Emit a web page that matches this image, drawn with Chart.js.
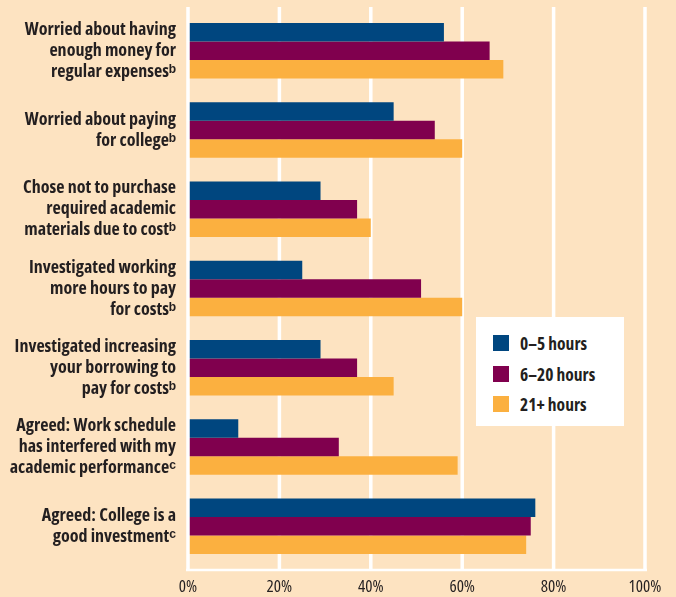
<!DOCTYPE html>
<html>
<head>
<meta charset="utf-8">
<script src="https://cdn.jsdelivr.net/npm/chart.js@4.4.1/dist/chart.umd.min.js"></script>
<style>
  body { margin: 0; background: #fde3c1; }
  #wrap { position: relative; width: 676px; height: 597px; background: #fde3c1; }
  #legend {
    position: absolute; left: 476px; top: 317px; width: 148px; height: 109px;
    background: #ffffff; box-sizing: border-box; padding: 18px 0 0 17px;
    font-family: 'Open Sans', sans-serif; font-stretch: 75%;
    font-weight: bold; font-size: 17.5px; color: #231f20;
  }
  #legend .item { display: flex; align-items: center; height: 16px; margin-bottom: 14.5px; }
  #legend .box { width: 16px; height: 16px; margin-right: 11px; flex: none; }
</style>
</head>
<body>
<div id="wrap">
  <canvas id="workChart" width="676" height="597"></canvas>
  <div id="legend"></div>
</div>
<script>
/**
 *  Survey items and share of students agreeing, by weekly hours worked.
 */
var categories = [
    ['Worried about having', 'enough money for', 'regular expensesᵇ'],
    ['Worried about paying', 'for collegeᵇ'],
    ['Chose not to purchase', 'required academic', 'materials due to costᵇ'],
    ['Investigated working', 'more hours to pay', 'for costsᵇ'],
    ['Investigated increasing', 'your borrowing to', 'pay for costsᵇ'],
    ['Agreed: Work schedule', 'has interfered with my', 'academic performanceᶜ'],
    ['Agreed: College is a', 'good investmentᶜ']
];
var seriesNames = ['0–5 hours', '6–20 hours', '21+ hours'];
var hours0to5 = [56, 45, 29, 25, 29, 11, 76];
var hours6to20 = [66, 54, 37, 51, 37, 33, 75];
var hours21plus = [69, 60, 40, 60, 45, 59, 74];
var xTicks = [0, 20, 40, 60, 80, 100];

var colors = ['#00467f', '#80004e', '#fbb040'];
var fontFamily = "'Open Sans', sans-serif";
var textColor = '#231f20';

/**
 * White grid frame: inner lines under the bars, zero line and base on top.
 */
var frameLines = {
    id: 'frameLines',
    beforeDatasetsDraw: function(chart) {
        var ctx = chart.ctx;
        var area = chart.chartArea;
        var x = chart.scales.x;
        ctx.save();
        ctx.strokeStyle = '#ffffff';
        ctx.lineWidth = 3.5;
        xTicks.forEach(function(v) {
            if (v === 0) return;
            var px = x.getPixelForValue(v);
            ctx.beginPath();
            ctx.moveTo(px, area.top - 4);
            ctx.lineTo(px, area.bottom + 4);
            ctx.stroke();
        });
        ctx.restore();
    },
    afterDatasetsDraw: function(chart) {
        var ctx = chart.ctx;
        var area = chart.chartArea;
        var x = chart.scales.x;
        var x0 = x.getPixelForValue(0);
        ctx.save();
        ctx.strokeStyle = '#ffffff';
        ctx.lineWidth = 3.5;
        ctx.beginPath();
        ctx.moveTo(x0, area.top - 4);
        ctx.lineTo(x0, area.bottom + 4);
        ctx.stroke();
        ctx.lineWidth = 2.5;
        ctx.beginPath();
        ctx.moveTo(x0 - 2, area.bottom + 4);
        ctx.lineTo(x.getPixelForValue(100) + 2, area.bottom + 4);
        ctx.stroke();
        ctx.restore();
    }
};

var seriesData = [hours0to5, hours6to20, hours21plus];
var workChart = new Chart(document.getElementById('workChart').getContext('2d'), {
    type: 'bar',
    data: {
        labels: categories,
        datasets: seriesNames.map(function(name, i) {
            return {
                label: name,
                data: seriesData[i],
                backgroundColor: colors[i],
                borderWidth: 0,
                categoryPercentage: 0.7,
                barPercentage: 1.0
            };
        })
    },
    options: {
        indexAxis: 'y',
        responsive: false,
        animation: false,
        devicePixelRatio: 1,
        layout: { padding: { top: 11, right: 31, left: 0, bottom: 0 } },
        plugins: {
            legend: { display: false },
            tooltip: { enabled: false }
        },
        scales: {
            x: {
                min: 0,
                max: 100,
                afterBuildTicks: function(scale) {
                    scale.ticks = xTicks.map(function(v) { return { value: v }; });
                },
                afterFit: function(scale) {
                    scale.height = 31;
                    scale.paddingLeft = 0;
                    scale.paddingRight = 0;
                },
                grid: { display: false },
                border: { display: false },
                ticks: {
                    padding: 3,
                    color: textColor,
                    font: { family: fontFamily, size: 17, weight: 'condensed normal' },
                    callback: function(v) { return v + '%'; }
                }
            },
            y: {
                afterFit: function(scale) {
                    scale.width = 188;
                    scale.paddingTop = 0;
                    scale.paddingBottom = 0;
                },
                grid: { display: false, drawTicks: false },
                border: { display: false },
                ticks: {
                    padding: 12,
                    color: textColor,
                    font: { family: fontFamily, size: 18, weight: 'condensed bold', lineHeight: 1.17 }
                }
            }
        }
    },
    plugins: [frameLines]
});

// legend box inside the plot
var legendEl = document.getElementById('legend');
seriesNames.forEach(function(name, i) {
    var item = document.createElement('div');
    item.className = 'item';
    item.innerHTML = '<span class="box" style="background:' + colors[i] + '"></span><span>' + name + '</span>';
    legendEl.appendChild(item);
});
</script>
</body>
</html>
